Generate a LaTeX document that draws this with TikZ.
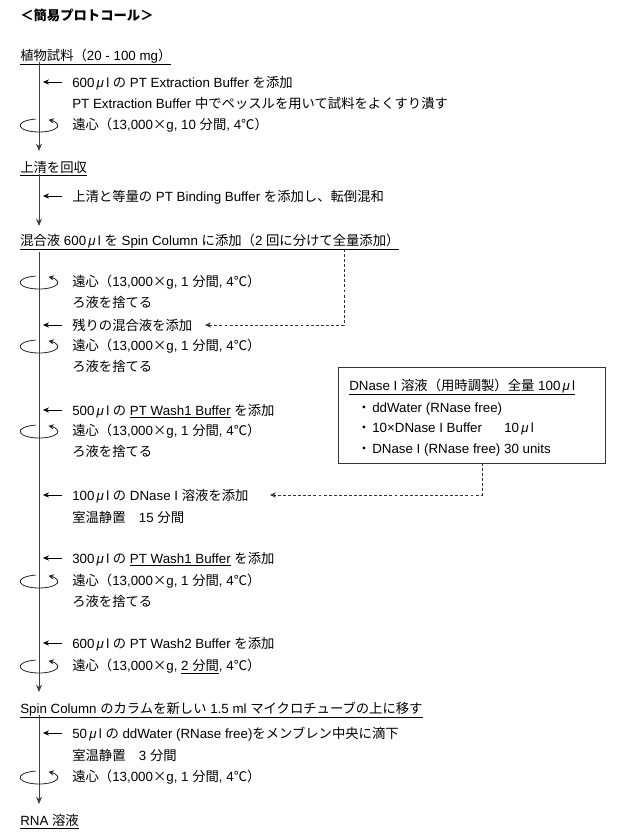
\documentclass[tikz,border=0pt]{standalone}
\usepackage{fontspec}
\setmainfont{Liberation Sans}
\newfontfamily\lfont{Liberation Sans}
\newfontfamily\jfont{Noto Sans CJK JP}
\usetikzlibrary{arrows.meta}
\XeTeXinterchartokenstate=1
\chardef\jclass=7
\newcount\jcnt
\def\setjrange#1#2{\jcnt=#1\relax\loop\XeTeXcharclass\jcnt=\jclass\ifnum\jcnt<#2\advance\jcnt by 1\repeat}
\setjrange{"3000}{"30FF}
\setjrange{"4E00}{"9FFF}
\setjrange{"FF00}{"FFEF}
\XeTeXcharclass"00D7=\jclass
\XeTeXcharclass"2103=\jclass
\XeTeXinterchartoks 0 \jclass={\jfont}
\XeTeXinterchartoks 4095 \jclass={\jfont}
\XeTeXinterchartoks \jclass 0={\lfont}
\XeTeXinterchartoks \jclass 4095={\lfont}
\newcommand\muL{\,{\lfont\itshape μ}\,l}
\tikzset{
  txt/.style={anchor=base west, inner sep=0pt, text=black,
    font=\fontsize{10pt}{12pt}\selectfont\lfont},
  flow/.style={draw=black!75, line width=0.7pt, -{Stealth[length=5.5pt,width=4.5pt]}},
  addarrow/.style={draw=black, line width=0.6pt, -{Stealth[length=4.5pt,width=4pt]}},
  spinarrow/.style={draw=black!85, line width=0.6pt, -{Stealth[length=4pt,width=4pt]}},
  dasharrow/.style={draw=black!80, line width=0.6pt, dash pattern=on 2.2pt off 1.6pt,
    -{Stealth[length=4.5pt,width=4pt]}},
  infobox/.style={draw=black!80, line width=0.6pt, inner sep=0pt,
    minimum width=200.25pt, minimum height=72pt},
}
\newcommand\addmark[1]{\draw[addarrow] ([shift={(-10,-5)}]#1.base west) -- ++(-19,0);}
\newcommand\spinmark[1]{\draw[spinarrow] ([shift={(-33,-3.5)}]#1.base west) ++(-100:19 and 6.5)
  arc[start angle=-100, end angle=-420, x radius=19, y radius=6.5];}
\begin{document}
\begin{tikzpicture}[x=0.75pt, y=-0.75pt]
\useasboundingbox (0,0) rectangle (622,840);
% title
\node[txt, font=\fontsize{10pt}{12pt}\selectfont\lfont\bfseries] (title) at (20,20) {＜簡易プロトコール＞};
% headings
\node[txt] (h1) at (20,60) {\underline{植物試料（20 - 100 mg）}};
\node[txt] (h2) at (20,172) {\underline{上清を回収}};
\node[txt] (h3) at (20,245) {\underline{混合液 600\muL{} を Spin Column に添加（2 回に分けて全量添加）}};
\node[txt] (h4) at (20,713) {\underline{Spin Column のカラムを新しい 1.5 ml マイクロチューブの上に移す}};
\node[txt] (h5) at (20,825) {\underline{RNA 溶液}};
% steps
\node[txt] (s1) at (72,87) {600\muL{} の PT Extraction Buffer を添加};
\node[txt] (s2) at (72,108) {PT Extraction Buffer 中でペッスルを用いて試料をよくすり潰す};
\node[txt] (s3) at (72,129) {遠心（13,000×g, 10 分間, 4℃）};
\node[txt] (s4) at (72,201) {上清と等量の PT Binding Buffer を添加し、転倒混和};
\node[txt] (s5) at (72,286) {遠心（13,000×g, 1 分間, 4℃）};
\node[txt] (s6) at (72,307) {ろ液を捨てる};
\node[txt] (s7) at (72,330) {残りの混合液を添加};
\node[txt] (s8) at (72,350) {遠心（13,000×g, 1 分間, 4℃）};
\node[txt] (s9) at (72,371) {ろ液を捨てる};
\node[txt] (s10) at (72,415) {500\muL{} の \underline{PT Wash1 Buffer} を添加};
\node[txt] (s11) at (72,435) {遠心（13,000×g, 1 分間, 4℃）};
\node[txt] (s12) at (72,456) {ろ液を捨てる};
\node[txt] (s13) at (72,500) {100\muL{} の DNase I 溶液を添加};
\node[txt] (s14) at (72,522) {室温静置　15 分間};
\node[txt] (s15) at (72,563) {300\muL{} の \underline{PT Wash1 Buffer} を添加};
\node[txt] (s16) at (72,585) {遠心（13,000×g, 1 分間, 4℃）};
\node[txt] (s17) at (72,606) {ろ液を捨てる};
\node[txt] (s18) at (72,648) {600\muL{} の PT Wash2 Buffer を添加};
\node[txt] (s19) at (72,670) {遠心（13,000×g, \underline{2 分間}, 4℃）};
\node[txt] (s20) at (72,738) {50\muL{} の ddWater (RNase free)をメンブレン中央に滴下};
\node[txt] (s21) at (72,760) {室温静置　3 分間};
\node[txt] (s22) at (72,781) {遠心（13,000×g, 1 分間, 4℃）};
% DNase box
\node[infobox] (box) at (471.5,415) {};
\node[txt] (b0) at (349,390) {\underline{DNase I 溶液（用時調製）全量 100\muL}};
\node[txt] (k1) at (357,412) {・};
\node[txt] (k2) at (357,432) {・};
\node[txt] (k3) at (357,453) {・};
\node[txt] (b1) at (372,412) {ddWater (RNase free)};
\node[txt] (b2) at (372,432) {{\XeTeXinterchartokenstate=0 10×DNase I Buffer}};
\node[txt] (b2v) at (504,432) {10\muL};
\node[txt] (b3) at (372,453) {DNase I (RNase free) 30 units};
% main flow lines
\coordinate (f1s) at (39,62);  \coordinate (f1e) at (39,151);
\coordinate (f2s) at (39,174); \coordinate (f2e) at (39,226);
\coordinate (f3s) at (39,252); \coordinate (f3e) at (39,692);
\coordinate (f4s) at (39,715); \coordinate (f4e) at (39,804);
\draw[flow] (f1s) -- (f1e);
\draw[flow] (f2s) -- (f2e);
\draw[flow] (f3s) -- (f3e);
\draw[flow] (f4s) -- (f4e);
% addition arrows
\addmark{s1}
\addmark{s4}
\addmark{s7}
\addmark{s10}
\addmark{s13}
\addmark{s15}
\addmark{s18}
\addmark{s20}
% centrifuge marks
\spinmark{s3}
\spinmark{s5}
\spinmark{s8}
\spinmark{s11}
\spinmark{s16}
\spinmark{s19}
\spinmark{s22}
% dashed links
\coordinate (d1s) at (344,249); \coordinate (d1e) at (205,325);
\coordinate (d2s) at (482,463); \coordinate (d2e) at (270,495);
\draw[dasharrow] (d1s) |- (d1e);
\draw[dasharrow] (d2s) |- (d2e);
\end{tikzpicture}
\end{document}
